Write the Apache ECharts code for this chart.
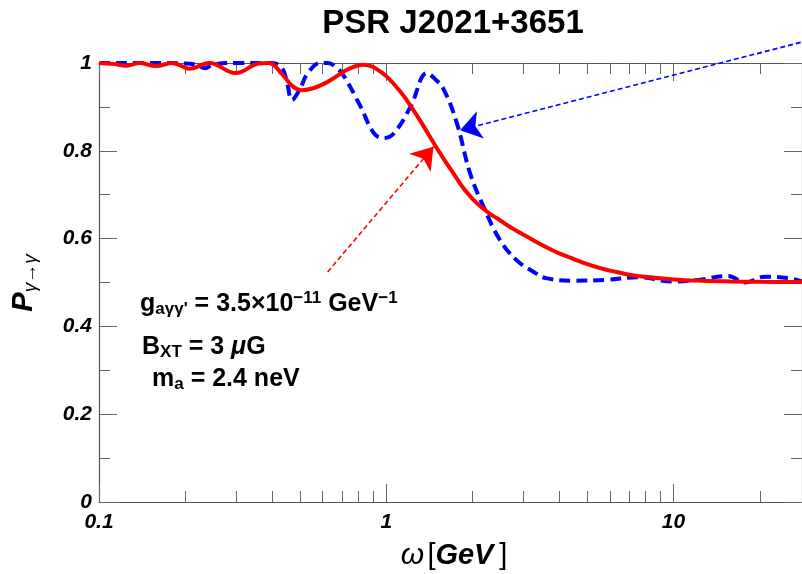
<!DOCTYPE html>
<html>
<head>
<meta charset="utf-8">
<script src="https://cdn.jsdelivr.net/npm/echarts@6/dist/echarts.min.js"></script>
<style>
  html, body { margin: 0; padding: 0; background: #fff; }
  #chart { width: 802px; height: 574px; }
</style>
</head>
<body>
<div id="chart"></div>
<script>
// omega [GeV] and P(gamma -> gamma)
const redX = [0.1, 0.112, 0.1247, 0.138, 0.158, 0.18, 0.2065, 0.242, 0.2996, 0.36, 0.39, 0.436, 0.47, 0.509, 0.56, 0.625, 0.68, 0.737, 0.83, 0.9, 1.0, 1.07, 1.15, 1.23, 1.32, 1.41, 1.51, 1.62, 1.74, 1.86, 2.0, 2.14, 2.29, 2.46, 2.63, 2.82, 3.02, 3.24, 3.47, 3.72, 3.98, 4.47, 5.01, 5.62, 6.31, 7.08, 7.94, 10, 12.6, 15.8, 20, 28]
const redY = [1.0, 0.998, 0.994, 1.0, 0.993, 1.0, 0.987, 1.0, 0.977, 0.999, 1.0, 0.973, 0.948, 0.938, 0.943, 0.957, 0.972, 0.986, 0.996, 0.991, 0.970, 0.950, 0.925, 0.897, 0.866, 0.835, 0.803, 0.772, 0.742, 0.714, 0.690, 0.672, 0.657, 0.644, 0.631, 0.619, 0.608, 0.597, 0.586, 0.576, 0.567, 0.554, 0.542, 0.532, 0.524, 0.517, 0.513, 0.507, 0.504, 0.5025, 0.5015, 0.501]

const blueX = [0.1, 0.15, 0.2, 0.22, 0.234, 0.25, 0.3, 0.4, 0.432, 0.45, 0.47, 0.5, 0.533, 0.59, 0.625, 0.67, 0.714, 0.815, 0.906, 0.982, 1.063, 1.214, 1.387, 1.47, 1.584, 1.761, 1.957, 2.18, 2.486, 2.84, 3.24, 3.6, 4.46, 5.82, 7.59, 9.9, 12.2, 15.5, 17.7, 20.8, 25.1, 28]
const blueY = [1.0, 1.0, 0.999, 0.995, 0.988, 0.997, 1.0, 1.0, 0.99, 0.96, 0.916, 0.94, 0.977, 1.0, 1.0, 0.99, 0.969, 0.9, 0.84, 0.829, 0.84, 0.9, 0.977, 0.965, 0.94, 0.863, 0.749, 0.673, 0.597, 0.551, 0.525, 0.51, 0.504, 0.506, 0.512, 0.502, 0.506, 0.515, 0.5, 0.513, 0.51, 0.502]

const xMajorTicks = [0.1, 1, 10]
const xMinorTicks = [0.2, 0.3, 0.4, 0.5, 0.6, 0.7, 0.8, 0.9, 2, 3, 4, 5, 6, 7, 8, 9, 20]

// annotation arrows [omega, P]
const redArrowFrom = [0.625, 0.524]
const redArrowTo = [1.46, 0.809]
const blueArrowFrom = [27.7, 1.047]
const blueArrowTo = [1.807, 0.847]

const X_MIN = 0.1
const X_MAX = 28
const FONT = '"Liberation Sans", Arial, sans-serif'
const AXIS_COLOR = '#555'
const TICK_COLOR = '#666'

const zip = (xs, ys) => xs.map((x, i) => [x, ys[i]])

function xAxisDef(pos, ticks, len, opts) {
  return Object.assign({
    type: 'log', min: X_MIN, max: X_MAX, position: pos, gridIndex: 0,
    axisLine: { show: false },
    axisTick: { show: true, inside: true, length: len, customValues: ticks, lineStyle: { color: TICK_COLOR, width: 1 } },
    axisLabel: { show: false },
    splitLine: { show: false },
    minorTick: { show: false },
  }, opts || {})
}

const mainText = { fontSize: 25, fontWeight: 'bold', fontFamily: FONT, fill: '#000', lineHeight: 28, verticalAlign: 'middle' }
const subText = { fontSize: 17, fontWeight: 'bold', fontFamily: FONT, fill: '#000', lineHeight: 17, verticalAlign: 'bottom' }
const supText = { fontSize: 17, fontWeight: 'bold', fontFamily: FONT, fill: '#000', lineHeight: 17, verticalAlign: 'top' }

const option = {
  animation: false,
  backgroundColor: '#fff',
  grid: { left: 99, top: 63, width: 708, height: 439, containLabel: false },
  xAxis: [
    xAxisDef('bottom', xMajorTicks, 18, {
      axisLine: { show: true, lineStyle: { color: AXIS_COLOR, width: 1.2 } },
      axisLabel: {
        show: true, customValues: xMajorTicks, margin: 10,
        formatter: v => String(+v.toPrecision(3)),
        color: '#000', fontSize: 21, fontWeight: 'bold', fontStyle: 'italic', fontFamily: FONT,
      },
    }),
    xAxisDef('bottom', xMinorTicks, 11),
    xAxisDef('top', xMajorTicks, 18, { axisLine: { show: true, lineStyle: { color: AXIS_COLOR, width: 1.2 } } }),
    xAxisDef('top', xMinorTicks, 11),
  ],
  yAxis: [
    {
      type: 'value', min: 0, max: 1, interval: 0.2, position: 'left',
      axisLine: { show: true, lineStyle: { color: AXIS_COLOR, width: 1.2 } },
      axisTick: { show: true, inside: true, length: 18, lineStyle: { color: TICK_COLOR } },
      minorTick: { show: true, splitNumber: 2, length: 11, lineStyle: { color: TICK_COLOR } },
      axisLabel: { margin: 7, color: '#000', fontSize: 21, fontWeight: 'bold', fontStyle: 'italic', fontFamily: FONT },
      splitLine: { show: false },
    },
    {
      type: 'value', min: 0, max: 1, interval: 0.2, position: 'right',
      axisLine: { show: true, lineStyle: { color: AXIS_COLOR, width: 1.2 } },
      axisTick: { show: true, inside: true, length: 18, lineStyle: { color: TICK_COLOR } },
      minorTick: { show: true, splitNumber: 2, length: 11, lineStyle: { color: TICK_COLOR } },
      axisLabel: { show: false },
      splitLine: { show: false },
    },
  ],
  series: [
    {
      name: 'blue', type: 'line', xAxisIndex: 0, yAxisIndex: 0,
      data: zip(blueX, blueY), smooth: 0.4, showSymbol: false, clip: false, z: 2,
      lineStyle: { color: '#0000ff', width: 4, type: [11, 6] },
      markLine: {
        silent: true, symbol: ['none', 'arrow'], symbolSize: 21, label: { show: false },
        lineStyle: { color: '#0000ff', width: 1.6, type: [5, 3] },
        emphasis: { disabled: true },
        data: [],
      },
    },
    {
      name: 'red', type: 'line', xAxisIndex: 0, yAxisIndex: 0,
      data: zip(redX, redY), smooth: 0.4, showSymbol: false, clip: false, z: 3,
      lineStyle: { color: '#ff0000', width: 4 },
      markLine: {
        silent: true, symbol: ['none', 'arrow'], symbolSize: 21, label: { show: false },
        lineStyle: { color: '#ff0000', width: 1.6, type: [5, 3] },
        emphasis: { disabled: true },
        data: [[{ coord: redArrowFrom }, { coord: redArrowTo }]],
      },
    },
  ],
  graphic: [
    {
      type: 'text', x: 453, y: 24,
      style: { text: 'PSR J2021+3651', font: 'bold 33px ' + FONT, fill: '#000', align: 'center', verticalAlign: 'middle' },
    },
    {
      type: 'text', x: 454, y: 556,
      style: {
        text: '{w|ω} {br|[}{g|GeV}{br|\u2009]}', align: 'center', verticalAlign: 'middle',
        rich: {
          w: { fontSize: 30, fontStyle: 'italic', fontFamily: FONT, fill: '#000' },
          br: { fontSize: 29, fontFamily: FONT, fill: '#000' },
          g: { fontSize: 29, fontStyle: 'italic', fontWeight: 'bold', fontFamily: FONT, fill: '#000' },
        },
      },
    },
    {
      type: 'text', x: 24, y: 283, rotation: Math.PI / 2,
      style: {
        text: '{p|P}{s|γ→γ}', align: 'center', verticalAlign: 'middle',
        rich: {
          p: { fontSize: 29, fontStyle: 'italic', fontWeight: 'bold', fontFamily: FONT, fill: '#000', lineHeight: 32, verticalAlign: 'middle' },
          s: { fontSize: 19, fontStyle: 'italic', fontFamily: FONT, fill: '#000', lineHeight: 19, verticalAlign: 'bottom' },
        },
      },
    },
    {
      type: 'text', x: 140, y: 304,
      style: {
        text: '{m|g}{sub|aγγ\'}{m| = 3.5×10}{sup|−11}{m| GeV}{sup|−1}', verticalAlign: 'middle',
        rich: { m: mainText, sub: subText, sup: supText },
      },
    },
    {
      type: 'text', x: 142, y: 347,
      style: {
        text: '{m|B}{sub|XT}{m| = 3 }{mi|μ}{m|G}', verticalAlign: 'middle',
        rich: { m: mainText, mi: Object.assign({}, mainText, { fontStyle: 'italic' }), sub: subText },
      },
    },
    {
      type: 'text', x: 152, y: 379,
      style: {
        text: '{m|m}{sub|a}{m| = 2.4 neV}', verticalAlign: 'middle',
        rich: { m: mainText, sub: subText },
      },
    },
  ],
}

const chart = echarts.init(document.getElementById('chart'), null, { renderer: 'canvas' })
chart.setOption(option)

// the blue arrow starts above the frame, so place its tail through the axis scales
const blueFromPx = chart.convertToPixel({ xAxisIndex: 0, yAxisIndex: 0 }, blueArrowFrom)
chart.setOption({
  series: [
    { markLine: { data: [[{ x: blueFromPx[0], y: blueFromPx[1] }, { coord: blueArrowTo }]] } },
    {},
  ],
})
</script>
</body>
</html>
